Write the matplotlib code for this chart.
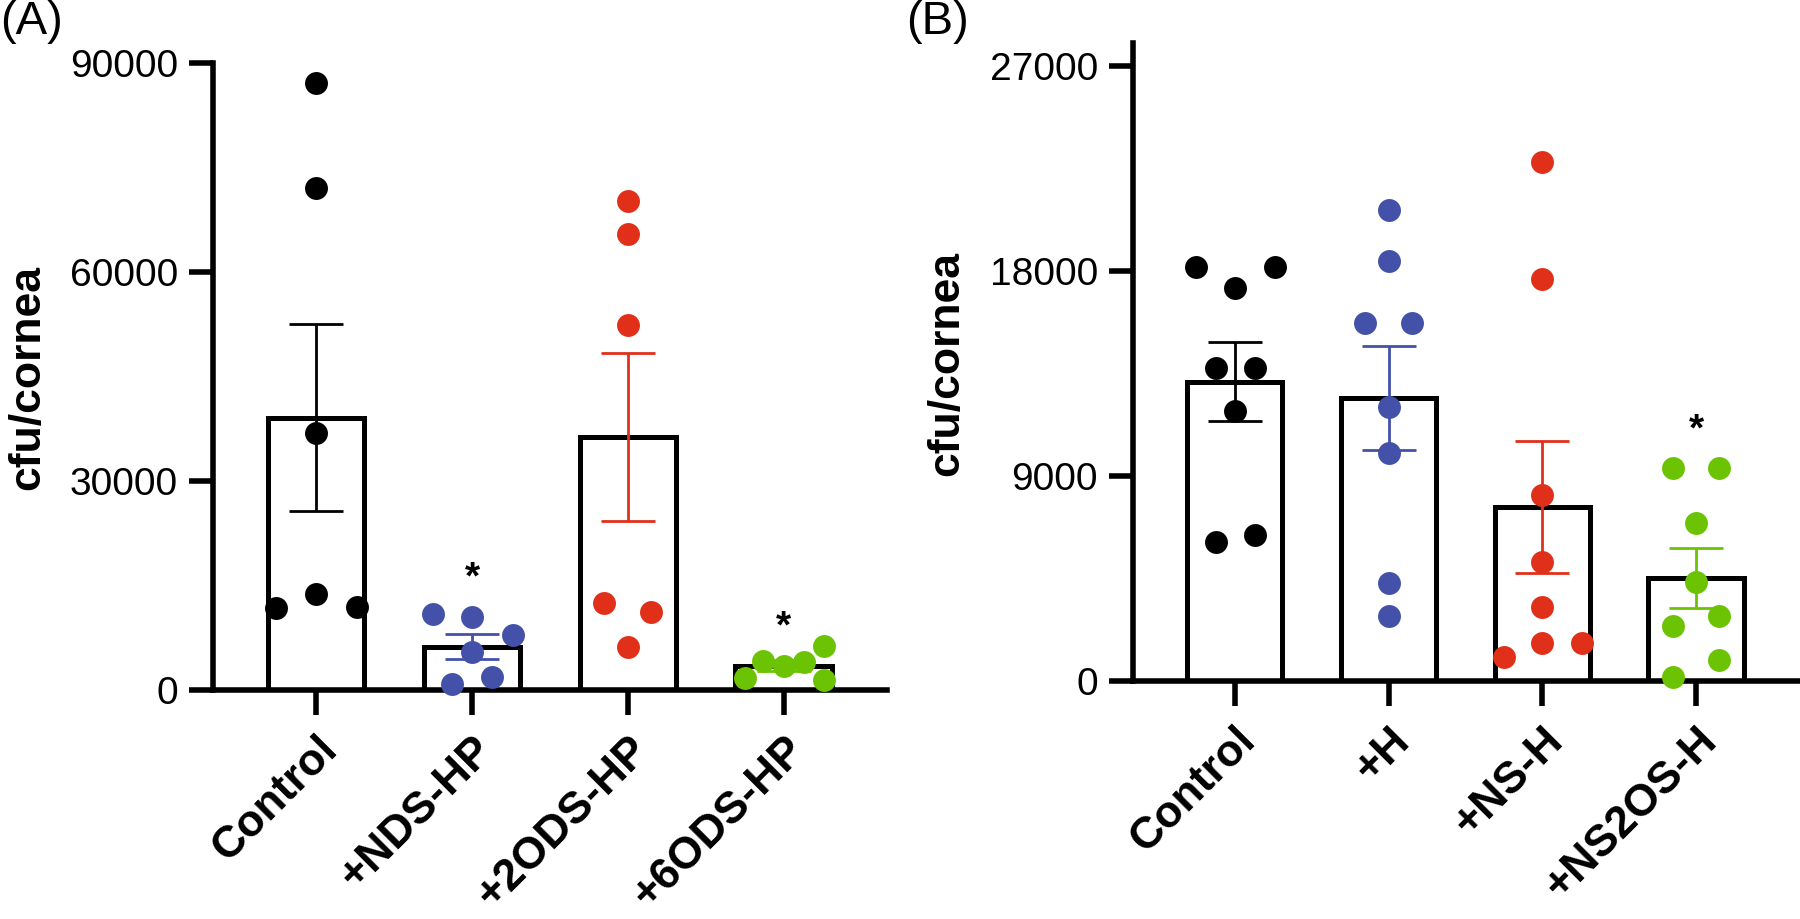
import numpy as np
import matplotlib
matplotlib.use("Agg")
import matplotlib.pyplot as plt
import matplotlib.transforms as mtransforms

plt.rcParams['font.family'] = ['Liberation Sans', 'DejaVu Sans']

BLACK = '#000000'
BLUE = '#4352a8'
RED = '#e0301a'
GREEN = '#6cc304'

# ---- panel A data ----
a_groups = ['Control', '+NDS-HP', '+2ODS-HP', '+6ODS-HP']
a_colors = [BLACK, BLUE, RED, GREEN]
a_control = [87100, 72000, 36900, 13800, 11770, 11900]
a_control_dx = [0, 0, 0, 0, -0.26, 0.26]
a_nds = [10900, 10430, 7900, 5410, 860, 1910]
a_nds_dx = [-0.25, 0, 0.26, 0, -0.13, 0.13]
a_2ods = [70140, 65470, 52340, 12530, 11240, 6220]
a_2ods_dx = [0, 0, 0, -0.15, 0.15, 0]
a_6ods = [1680, 4210, 3490, 3970, 6360, 1440]
a_6ods_dx = [-0.25, -0.13, 0, 0.13, 0.26, 0.26]
a_means = [39100, 6200, 36300, 3500]
a_sems = [13400, 1780, 12030, 760]
a_stars = {1: 17700, 3: 10770}

# ---- panel B data ----
b_groups = ['Control', '+H', '+NS-H', '+NS2OS-H']
b_colors = [BLACK, BLUE, RED, GREEN]
b_control = [18190, 18190, 17240, 13730, 13730, 11870, 6120, 6410]
b_control_dx = [-0.25, 0.26, 0, -0.12, 0.13, 0, -0.12, 0.13]
b_h = [20680, 18440, 15720, 15720, 12040, 10020, 4290, 2850]
b_h_dx = [0, 0, -0.15, 0.15, 0, 0, 0, 0]
b_nsh = [22800, 17640, 8170, 5240, 3250, 1070, 1655, 1655]
b_nsh_dx = [0, 0, 0, 0, 0, -0.25, 0, 0.26]
b_ns2os = [9370, 9370, 6920, 4360, 2415, 2854, 922, 162]
b_ns2os_dx = [-0.15, 0.15, 0, 0, -0.15, 0.15, 0.15, -0.15]
b_means = [13150, 12420, 7650, 4520]
b_sems = [1740, 2270, 2890, 1300]
b_stars = {3: 11535}

fig = plt.figure(figsize=(18, 9.19), dpi=100)
W, H = 1800, 919


def px_axes(l, r, t, b):
    return fig.add_axes([l / W, 1 - b / H, (r - l) / W, (b - t) / H])


def draw_panel(ax, groups, colors, pts, dxs, means, sems, stars, ymax, yticks):
    x = np.arange(len(groups))
    ax.bar(x, means, width=0.62, color='white', edgecolor=BLACK, linewidth=3.6, zorder=2)
    for i in range(len(groups)):
        ax.errorbar(x[i], means[i], yerr=sems[i], fmt='none', ecolor=colors[i],
                    elinewidth=2, capsize=19.5, capthick=2, zorder=3)
        ax.plot(x[i] + np.array(dxs[i]), pts[i], 'o', color=colors[i],
                markersize=16.5, markeredgewidth=0, zorder=4, clip_on=False)
    for i, yv in stars.items():
        ax.annotate('*', (x[i], yv), xytext=(0, -16), textcoords='offset points',
                    ha='center', va='baseline', fontsize=28, fontweight='bold')
    ax.set_xlim(-0.66, 3.665)
    ax.set_ylim(0, ymax)
    ax.set_yticks(yticks)
    ax.set_yticklabels([str(v) for v in yticks])
    ax.set_xticks(x)
    ax.set_xticklabels(groups, rotation=45, ha='right', va='top',
                       rotation_mode='anchor', fontsize=32, fontweight='bold')
    shift = mtransforms.ScaledTranslation(-0.2, 0, fig.dpi_scale_trans)
    for lab in ax.get_xticklabels():
        lab.set_transform(lab.get_transform() + shift)
    for s in ['top', 'right']:
        ax.spines[s].set_visible(False)
    for s in ['left', 'bottom']:
        ax.spines[s].set_linewidth(4)
        ax.spines[s].set_capstyle('projecting')
    ax.tick_params(axis='y', length=17.5, width=4, labelsize=28, pad=8)
    ax.tick_params(axis='x', length=18, width=4, pad=10)


axA = px_axes(213.3, 887.3, 63, 690)
draw_panel(axA, a_groups, a_colors, [a_control, a_nds, a_2ods, a_6ods],
           [a_control_dx, a_nds_dx, a_2ods_dx, a_6ods_dx], a_means, a_sems,
           a_stars, 90000, [0, 30000, 60000, 90000])

axB = px_axes(1133.3, 1798.3, 43.3, 681)
draw_panel(axB, b_groups, b_colors, [b_control, b_h, b_nsh, b_ns2os],
           [b_control_dx, b_h_dx, b_nsh_dx, b_ns2os_dx], b_means, b_sems,
           b_stars, 28000, [0, 9000, 18000, 27000])

fig.text(27.5 / W, 1 - 378 / H, 'cfu/cornea', rotation=90, ha='center', va='center',
         fontsize=32, fontweight='bold')
fig.text(947 / W, 1 - 363.5 / H, 'cfu/cornea', rotation=90, ha='center', va='center',
         fontsize=32, fontweight='bold')
fig.text(0.0, 1.0, '(A)', ha='left', va='top', fontsize=34)
fig.text(906 / W, 1.0, '(B)', ha='left', va='top', fontsize=34)

fig.savefig('out.png', dpi=100)
